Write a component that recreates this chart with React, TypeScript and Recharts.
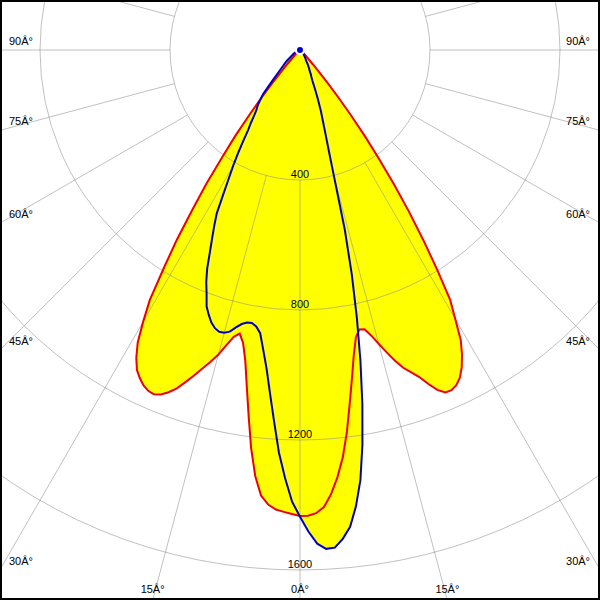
import React from 'react';
import { RadarChart, Radar, PolarGrid, PolarAngleAxis, PolarRadiusAxis } from 'recharts';

// gamma angle (deg): 0 = straight down, negative = left half, positive = right half
const ANGLES = [
  -180, -90, -70, -60, -50, -45, -42,
  -40, -39, -38, -37, -36, -35, -34, -33, -32, -31, -30, -29, -28, -27, -26, -25, -24, -23, -22, -21,
  -20, -19, -18, -17, -16, -15, -14, -13, -12, -11, -10, -9, -8, -7, -6, -5, -4, -3, -2, -1, 0,
  1, 2, 3, 4, 5, 6, 7, 8, 9, 10, 11, 12, 13, 14, 15, 16, 17, 18, 19, 20,
  21, 22, 23, 24, 25, 26, 27, 28, 29, 30, 31, 32, 33, 34, 35, 36, 37, 38, 39, 40,
  42, 45, 50, 60, 70, 90, 180,
];

// red outline plane (cd)
const RED_PLANE = [
  0, 0, 0, 0, 10, 25, 60,
  130, 185, 250, 330, 405, 500, 590, 695, 790, 897, 965, 1030, 1073, 1105, 1124, 1139, 1148, 1151, 1143, 1128,
  1108, 1080, 1052, 1024, 998, 970, 936, 906, 892, 918, 970, 1047, 1136, 1234, 1318, 1376, 1402, 1416, 1422, 1428, 1434,
  1433, 1426, 1408, 1370, 1320, 1260, 1184, 1099, 1022, 953, 901, 879, 882, 905, 936, 968, 1000, 1028, 1048, 1070,
  1100, 1128, 1145, 1146, 1138, 1122, 1096, 1062, 1020, 955, 897, 795, 695, 598, 504, 410, 330, 252, 185, 130,
  60, 25, 10, 0, 0, 0, 0,
];

// blue outline plane (cd)
const BLUE_PLANE = [
  0, 0, 8, 22, 55, 85, 125,
  175, 190, 205, 218, 228, 245, 270, 292, 328, 370, 411, 452, 503, 564, 602, 640, 682, 731, 770, 802,
  840, 862, 882, 895, 902, 901, 893, 876, 862, 854, 853, 861, 880, 929, 985, 1060, 1145, 1240, 1318, 1390, 1436,
  1482, 1520, 1537, 1535, 1510, 1475, 1414, 1336, 1228, 1105, 975, 841, 708, 570, 409, 320, 265, 225, 195, 160,
  130, 102, 90, 82, 70, 65, 58, 52, 46, 40, 36, 33, 30, 28, 26, 24, 22, 20, 19, 18,
  16, 15, 10, 5, 0, 0, 0,
];

const ANGLE_TICKS = [
  -180, -165, -150, -135, -120, -105, -90, -75, -60, -45, -30, -15, 0,
  15, 30, 45, 60, 75, 90, 105, 120, 135, 150, 165, 180,
];
const RADIUS_TICKS = [400, 800, 1200, 1600];
const RADIUS_MAX_VALUE = 1600;
const GRID_MAX_VALUE = 2000;

const rows = ANGLES.map((a, i) => ({ angle: a, red: RED_PLANE[i], blue: BLUE_PLANE[i] }));

const W = 600;
const H = 600;
const CX = 300;
const CY = 50;
const R_MAX = 520;
const FONT = '"Liberation Sans", Arial, sans-serif';

const AngleTick = (props: any) => {
  const { x, y, payload } = props;
  const v = Number(payload?.value);
  if (Math.abs(v) > 90) return null;
  const dx = x - CX;
  const dy = y - CY;
  let t = Infinity;
  if (dx > 1e-6) t = Math.min(t, (W - CX) / dx);
  if (dx < -1e-6) t = Math.min(t, (0 - CX) / dx);
  if (dy > 1e-6) t = Math.min(t, (H - CY) / dy);
  const hx = CX + dx * t;
  const hy = CY + dy * t;
  const label = `${Math.abs(v)}Â°`;
  let tx: number;
  let ty: number;
  let anchor: 'start' | 'middle' | 'end';
  if (hy >= H - 0.5) {
    tx = hx;
    ty = H - 7;
    anchor = 'middle';
  } else if (dx < 0) {
    tx = 9;
    ty = hy - 5;
    anchor = 'start';
  } else {
    tx = W - 10;
    ty = hy - 5;
    anchor = 'end';
  }
  return (
    <text x={tx} y={ty} textAnchor={anchor} fontFamily={FONT} fontSize={11} fill="#000">
      {label}
    </text>
  );
};

const RadiusTick = (props: any) => {
  const { x, y, payload } = props;
  return (
    <text x={x} y={y - 2} textAnchor="middle" fontFamily={FONT} fontSize={11} fill="#000">
      {payload?.value}
    </text>
  );
};

const layer: React.CSSProperties = { position: 'absolute', left: 0, top: 0, width: W, height: H };

export default function App() {
  const gridInner = (R_MAX * RADIUS_TICKS[0]) / RADIUS_MAX_VALUE;
  const gridOuter = (R_MAX * GRID_MAX_VALUE) / RADIUS_MAX_VALUE;
  return (
    <div style={{ position: 'absolute', left: 0, top: 0, width: W, height: H, background: '#fff' }}>
      <div style={layer}>
        <RadarChart width={W} height={H} data={rows} cx={CX} cy={CY} innerRadius={0} outerRadius={R_MAX}
          startAngle={-270} endAngle={90} margin={{ top: 0, right: 0, bottom: 0, left: 0 }}>
          <PolarAngleAxis dataKey="angle" type="number" domain={[-180, 180]} tick={false} axisLine={false} tickLine={false} />
          <PolarRadiusAxis type="number" domain={[0, RADIUS_MAX_VALUE]} tick={false} axisLine={false} tickLine={false} />
          <Radar dataKey="red" fill="#ffff00" fillOpacity={1} stroke="none" isAnimationActive={false} />
          <Radar dataKey="blue" fill="#ffff00" fillOpacity={1} stroke="none" isAnimationActive={false} />
        </RadarChart>
      </div>
      <div style={layer}>
        <RadarChart width={W} height={H} data={rows} cx={CX} cy={CY} innerRadius={gridInner} outerRadius={gridOuter}
          startAngle={-270} endAngle={90} margin={{ top: 0, right: 0, bottom: 0, left: 0 }}>
          <PolarGrid gridType="circle" stroke="#8c8c8c" strokeOpacity={0.55} />
          <PolarAngleAxis dataKey="angle" type="number" domain={[-180, 180]} ticks={ANGLE_TICKS}
            tick={<AngleTick />} axisLine={false} tickLine={false} />
          <PolarRadiusAxis angle={-90} type="number" domain={[RADIUS_TICKS[0], GRID_MAX_VALUE]} allowDataOverflow
            ticks={RADIUS_TICKS} tickCount={5} tick={<RadiusTick />} axisLine={false} tickLine={false} />
          <Radar dataKey="red" fill="none" stroke="none" isAnimationActive={false} />
        </RadarChart>
      </div>
      <div style={layer}>
        <RadarChart width={W} height={H} data={rows} cx={CX} cy={CY} innerRadius={0} outerRadius={R_MAX}
          startAngle={-270} endAngle={90} margin={{ top: 0, right: 0, bottom: 0, left: 0 }}>
          <PolarAngleAxis dataKey="angle" type="number" domain={[-180, 180]} tick={false} axisLine={false} tickLine={false} />
          <PolarRadiusAxis type="number" domain={[0, RADIUS_MAX_VALUE]} tick={false} axisLine={false} tickLine={false} />
          <Radar dataKey="red" fill="none" stroke="#ee0000" strokeWidth={2} isAnimationActive={false} />
          <Radar dataKey="blue" fill="none" stroke="#0000c8" strokeWidth={2} isAnimationActive={false} />
        </RadarChart>
      </div>
      <div style={{ ...layer, boxSizing: 'border-box', border: '2px solid #000', pointerEvents: 'none' }} />
    </div>
  );
}
